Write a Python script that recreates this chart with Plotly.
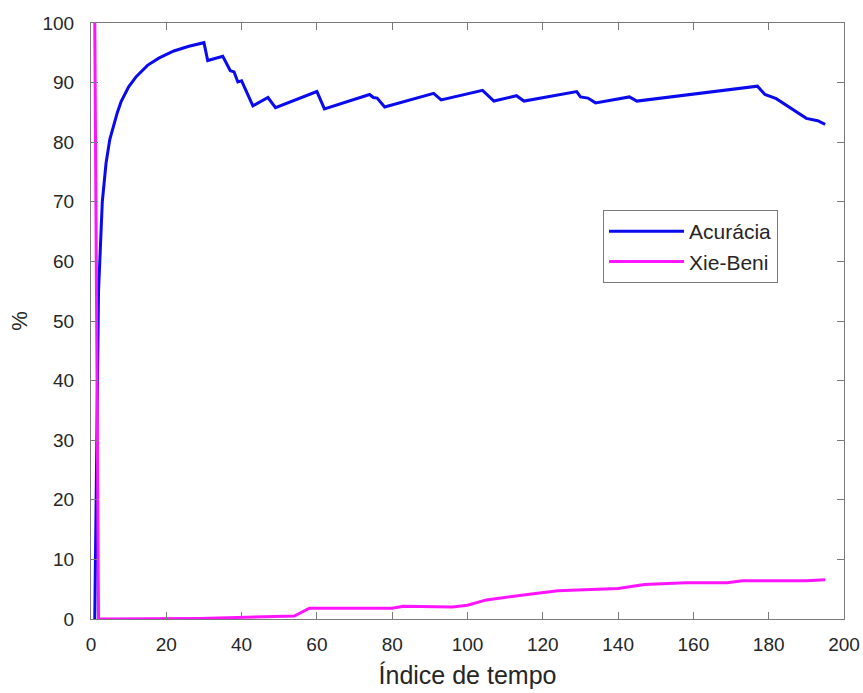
import plotly.graph_objects as go

# Acurácia: vertices of the accuracy curve (time index, %)
acc_t = [1, 2, 3, 4, 5, 6, 7, 8, 10, 12, 15, 18, 22, 26, 30, 31,
         35, 37, 38, 39, 40, 43, 47, 49, 60, 62, 74, 75, 76, 78,
         91, 93, 104, 107, 113, 115, 129, 130, 132, 134, 143, 145,
         177, 179, 182, 190, 193, 195]
acc_v = [0, 55, 70, 76.5, 80.5, 83, 85, 86.8, 89.3, 91, 92.9, 94.1, 95.3, 96.1, 96.7, 93.7,
         94.4, 92.0, 91.8, 90.1, 90.3, 86.1, 87.5, 85.8, 88.5, 85.6, 88.0, 87.5, 87.4, 85.9,
         88.2, 87.1, 88.7, 86.9, 87.8, 86.9, 88.5, 87.6, 87.4, 86.6, 87.6, 86.9,
         89.4, 88.0, 87.3, 84.0, 83.6, 83.0]

# Xie-Beni index (time index, %)
xb_t = [1, 2, 29, 35, 40, 54, 58, 80, 83, 96, 100, 105, 117, 124, 131,
        140, 147, 158, 169, 173, 185, 190, 195]
xb_v = [100, 0, 0.1, 0.2, 0.35, 0.5, 1.8, 1.8, 2.15, 2.0, 2.3, 3.2, 4.2, 4.75, 4.9,
        5.1, 5.8, 6.1, 6.1, 6.4, 6.4, 6.4, 6.6]

x_ticks = list(range(0, 201, 20))
y_ticks = list(range(0, 101, 10))

AXIS = "#7a7a7a"
TEXT = "#262626"
FONT = "Liberation Sans, Arial, sans-serif"

fig = go.Figure()
fig.add_trace(go.Scatter(x=acc_t, y=acc_v, mode="lines", name="Acurácia",
                         line=dict(color="#0a0aee", width=3)))
fig.add_trace(go.Scatter(x=xb_t, y=xb_v, mode="lines", name="Xie-Beni",
                         line=dict(color="#ff14ff", width=3)))

axis_common = dict(showline=True, linecolor=AXIS, linewidth=1, mirror="ticks",
                   ticks="inside", ticklen=7, tickcolor=AXIS, tickwidth=1,
                   showgrid=False, zeroline=False, automargin=False,
                   tickfont=dict(family=FONT, size=19, color=TEXT))

fig.update_xaxes(range=[0, 200], tickvals=x_ticks, ticklabelstandoff=8,
                 title=dict(text="Índice de tempo", standoff=12,
                            font=dict(family=FONT, size=25, color=TEXT)),
                 **axis_common)
fig.update_yaxes(range=[0, 100], tickvals=y_ticks, ticklabelstandoff=12,
                 title=dict(text="%", standoff=8,
                            font=dict(family=FONT, size=22, color=TEXT)),
                 **axis_common)

fig.update_layout(
    width=863, height=693,
    margin=dict(l=91, r=19, t=23, b=74),
    paper_bgcolor="white", plot_bgcolor="white",
    showlegend=True,
    legend=dict(x=0.68, y=0.686, xanchor="left", yanchor="top",
                bgcolor="white", bordercolor=AXIS, borderwidth=1,
                itemwidth=75, tracegroupgap=0,
                font=dict(family=FONT, size=21, color=TEXT)),
)

fig.write_html("out.html")
